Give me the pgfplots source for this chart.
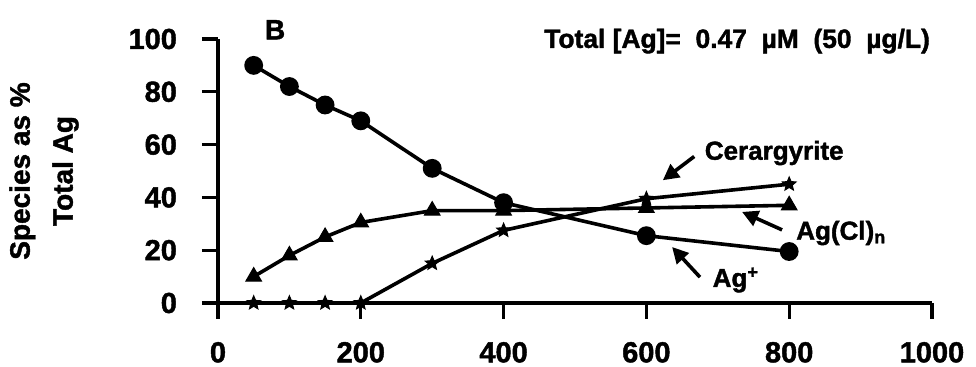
\documentclass[border=0pt]{standalone}
\usepackage{fontspec}
\setmainfont{Liberation Sans}[BoldFeatures={FakeBold=1.5}]
\usepackage{pgfplots}
\pgfplotsset{compat=1.18}
\usetikzlibrary{arrows.meta}

% filled five-pointed star mark
\pgfdeclareplotmark{fstar}{%
  \pgfpathmoveto{\pgfpointpolar{90}{\pgfplotmarksize}}%
  \pgfpathlineto{\pgfpointpolar{126}{0.45\pgfplotmarksize}}%
  \pgfpathlineto{\pgfpointpolar{162}{\pgfplotmarksize}}%
  \pgfpathlineto{\pgfpointpolar{198}{0.45\pgfplotmarksize}}%
  \pgfpathlineto{\pgfpointpolar{234}{\pgfplotmarksize}}%
  \pgfpathlineto{\pgfpointpolar{270}{0.45\pgfplotmarksize}}%
  \pgfpathlineto{\pgfpointpolar{306}{\pgfplotmarksize}}%
  \pgfpathlineto{\pgfpointpolar{342}{0.45\pgfplotmarksize}}%
  \pgfpathlineto{\pgfpointpolar{18}{\pgfplotmarksize}}%
  \pgfpathlineto{\pgfpointpolar{54}{0.45\pgfplotmarksize}}%
  \pgfpathclose
  \pgfusepathqfillstroke
}

\begin{document}
\begin{tikzpicture}
\useasboundingbox (-109pt,-32pt) rectangle (379pt,151.5pt);
\begin{axis}[
  at={(0,0)}, anchor=south west,
  scale only axis, width=357pt, height=132pt,
  xmin=0, xmax=1000, ymin=0, ymax=100,
  axis x line*=bottom, axis y line*=left,
  axis line style={line width=1.6pt, black},
  xtick={0,200,...,1000}, ytick={0,20,...,100},
  tick align=outside, major tick length=8pt,
  tick style={line width=1.6pt, black},
  /pgf/number format/assume math mode=true,
  /pgf/number format/1000 sep={},
  ticklabel style={font=\bfseries\fontsize{14.5}{14.5}\selectfont},
  xticklabel style={yshift=-8pt},
  yticklabel style={xshift=-9pt},
  ylabel={Species as \%\\Total Ag},
  every axis y label/.style={at={(axis description cs:0,0.5)}, xshift=-87pt,
    rotate=90, anchor=center, align=center,
    font=\bfseries\fontsize{14}{21.5}\selectfont},
  clip=false,
  every axis plot/.append style={line width=1.8pt, black},
]
% Ag+
\addplot[mark=*, mark size=3.8pt] coordinates {
  (50,90) (100,82) (150,75) (200,69) (300,51) (400,38) (600,25.5) (800,19.5)};
% Ag(Cl)n
\addplot[mark=triangle*, mark size=4.5pt, mark options={line width=0.5pt}] coordinates {
  (50,10) (100,18) (150,25) (200,30.5) (300,35) (400,35) (600,36) (800,37)};
% Cerargyrite
\addplot[mark=fstar, mark size=3.6pt, mark options={line width=0.5pt}] coordinates {
  (50,0) (100,0) (150,0) (200,0) (300,15) (400,27.5) (600,39.5) (800,45)};

\node[font=\bfseries\fontsize{14}{14}\selectfont] at (axis cs:80,103.5) {B};
\node[font=\bfseries\fontsize{13.2}{13.2}\selectfont] at (axis cs:727,99.2) {Total [Ag]= \ 0.47 \ µM \ (50 \ µg/L)};

\node[font=\bfseries\fontsize{13}{13}\selectfont] at (axis cs:779,56.8) {Cerargyrite};
\draw[line width=1.8pt, -{Triangle[length=8pt,width=8pt]}] (axis cs:667,55.5) -- (axis cs:623,46.5);

\node[font=\bfseries\fontsize{13}{13}\selectfont, anchor=west] at (axis cs:800,26.5) {Ag(Cl)\textsubscript{n}};
\draw[line width=1.8pt, -{Triangle[length=8pt,width=8pt]}] (axis cs:790,27.7) -- (axis cs:734,34.5);

\node[font=\bfseries\fontsize{13}{13}\selectfont, anchor=west] at (axis cs:683,8.7) {Ag\textsuperscript{+}};
\draw[line width=1.8pt, -{Triangle[length=8pt,width=8pt]}] (axis cs:675,9.8) -- (axis cs:636,21.2);
\end{axis}
\end{tikzpicture}
\end{document}
